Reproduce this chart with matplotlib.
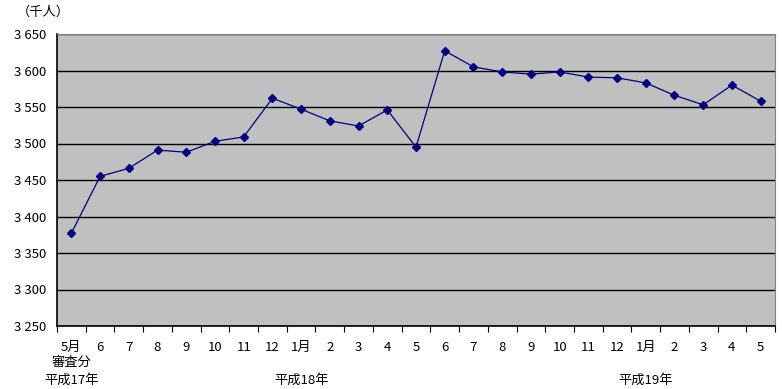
import matplotlib
matplotlib.use("Agg")
import matplotlib.pyplot as plt
from matplotlib.ticker import FuncFormatter, FixedLocator

plt.rcParams['font.family'] = ['Noto Sans CJK JP', 'DejaVu Sans']

months = ["5月", "6", "7", "8", "9", "10", "11", "12", "1月", "2", "3", "4",
          "5", "6", "7", "8", "9", "10", "11", "12", "1月", "2", "3", "4", "5"]
values = [3377, 3455, 3466, 3491, 3488, 3503, 3509, 3562, 3547, 3531, 3524, 3546,
          3495, 3627, 3605, 3598, 3595, 3598, 3591, 3590, 3583, 3566, 3553, 3580, 3558]
year_labels = ["平成17年", "平成18年", "平成19年"]
year_positions = [0, 8, 20]
sub_label = "審査分"
unit_label = "（千人）"

W, H = 782, 389
fig = plt.figure(figsize=(W/100, H/100), dpi=100)
ax = fig.add_axes([57/W, 1-326/H, (775-57)/W, (326-34)/H])
ax.set_facecolor("#C0C0C0")

x = list(range(len(values)))
ax.plot(x, values, color="#000080", linewidth=0.9, marker="D", markersize=4.5,
        markerfacecolor="#000080", markeredgecolor="#000080", zorder=3)

ax.set_xlim(-0.5, len(values) - 0.5)
ax.set_ylim(3250, 3650)
ax.set_yticks(range(3250, 3651, 50))
ax.yaxis.set_major_formatter(FuncFormatter(lambda v, p: f"{int(v)//1000} {int(v)%1000:03d}"))
ax.yaxis.grid(True, color="black", linewidth=1.0)
ax.set_axisbelow(True)
ax.tick_params(axis="y", length=0, labelsize=9.5, pad=8)

ax.xaxis.set_major_locator(FixedLocator([i - 0.5 for i in range(len(values) + 1)]))
ax.set_xticklabels([])
ax.xaxis.set_minor_locator(FixedLocator(x))
ax.set_xticklabels(months, minor=True)
ax.tick_params(axis="x", which="major", length=4, direction="out", color="black")
ax.tick_params(axis="x", which="minor", length=0, labelsize=9.5, pad=10.5)

for s in ["top", "right"]:
    ax.spines[s].set_color("#808080")
for s in ["left", "bottom"]:
    ax.spines[s].set_color("black")
    ax.spines[s].set_linewidth(1.2)

trans = ax.get_xaxis_transform()
def fy(py):
    return 1 - (py - 34) / (326 - 34)  # pixel y -> axes fraction
ax.text(0, fy(362), sub_label, transform=trans, ha="center", va="center", fontsize=9.5)
for lab, pos in zip(year_labels, year_positions):
    ax.text(pos, fy(380), lab, transform=trans, ha="center", va="center", fontsize=9.5)

fig.text(17/W, 1-12/H, unit_label, ha="left", va="center", fontsize=9.5)

fig.savefig("out.png", dpi=100)
